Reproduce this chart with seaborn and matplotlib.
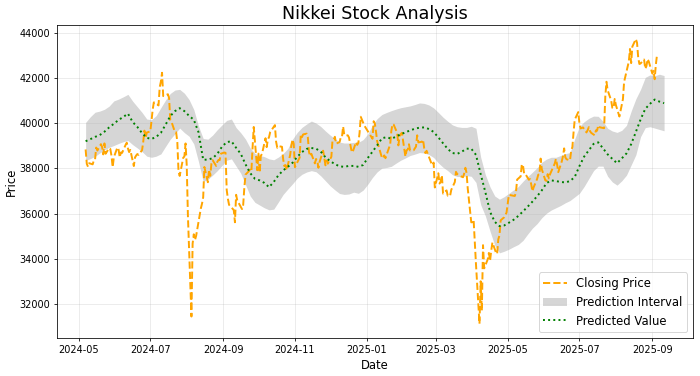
import numpy as np
import pandas as pd
import matplotlib
matplotlib.use("Agg")
import matplotlib.pyplot as plt
import matplotlib.dates as mdates
import seaborn as sns

# ---------------- data ----------------
close_start = "2024-05-07"
close_end = "2025-09-05"
market_holidays = [
    "2024-07-15", "2024-08-12", "2024-09-16", "2024-09-23", "2024-10-14",
    "2024-11-04", "2024-12-31", "2025-01-01", "2025-01-02", "2025-01-03",
    "2025-01-13", "2025-02-11", "2025-02-24", "2025-03-20", "2025-04-29",
    "2025-05-05", "2025-05-06", "2025-07-21", "2025-08-11",
]

closing_price = [
    # 2024-05
    38835, 38202, 38074, 38229, 38179, 38356, 38386, 38920, 38787, 39069,
    38946, 38617, 39103, 38646, 38900, 38856, 38556, 38054, 38488,
    # 2024-06
    38923, 38837, 38490, 38703, 38684, 39038, 39134, 38877, 38720, 38815,
    38103, 38482, 38570, 38634, 38596, 38805, 39174, 39667, 39342, 39583,
    # 2024-07
    39631, 40074, 40581, 40914, 40912, 40781, 41580, 41831, 42224, 41191,
    41275, 41098, 40126, 40064, 39599, 39594, 39155, 37870, 37668, 38469,
    38526, 39102,
    # 2024-08
    38126, 35910, 31458, 34675, 35090, 34831, 35025, 36233, 36443, 36727,
    38063, 37389, 37952, 37671, 38211, 38364, 38110, 38289, 38372, 38363,
    38648,
    # 2024-09
    38701, 38686, 37048, 36658, 36392, 36216, 36160, 35620, 36833, 36582,
    36204, 36380, 37155, 37724, 37941, 37871, 38926, 39830, 37920,
    # 2024-10
    38652, 37809, 38552, 38636, 39333, 38938, 39278, 39381, 39606, 39911,
    39181, 38911, 38982, 38955, 38412, 38105, 38144, 37914, 38606, 39028,
    39278, 39081,
    # 2024-11
    38054, 38475, 39481, 39381, 39501, 39534, 39377, 38722, 38536, 38643,
    38221, 38415, 38353, 38027, 38284, 38781, 38443, 38135, 38350, 38208,
    # 2024-12
    38514, 39249, 39277, 39396, 39092, 39161, 39368, 39373, 39850, 39471,
    39458, 39365, 39082, 38814, 38702, 39161, 39037, 39130, 39568, 40281,
    39895,
    # 2025-01
    39308, 40083, 39982, 39606, 39190, 38474, 38445, 38573, 38451, 38903,
    39028, 39647, 39959, 39932, 39566, 39017, 39415, 39514, 39572,
    # 2025-02
    38520, 38799, 38832, 39067, 38787, 38801, 38964, 39462, 39149, 39174,
    39270, 38879, 38678, 38777, 38238, 38142, 38256, 37156,
    # 2025-03
    37786, 37331, 37418, 37705, 36887, 37028, 36793, 36819, 36790, 37053,
    37396, 37846, 37752, 37677, 37608, 37780, 38027, 37799, 37120, 35618,
    # 2025-04
    35625, 35726, 34736, 33781, 31137, 33013, 31715, 34610, 33586, 33983,
    34268, 33921, 34378, 34730, 34280, 34221, 34869, 35040, 35706, 35840,
    36045,
    # 2025-05
    36452, 36831, 36780, 36929, 37504, 37645, 38184, 38128, 37756, 37754,
    37499, 37530, 37299, 36986, 37160, 37532, 37724, 37723, 38433, 37965,
    # 2025-06
    37471, 37447, 37747, 37554, 37742, 38089, 38212, 38421, 38174, 37834,
    38312, 38537, 38885, 38489, 38404, 38355, 38791, 38942, 39585, 40151,
    40487,
    # 2025-07
    39986, 39763, 39786, 39811, 39588, 39689, 39822, 39646, 39570, 39460,
    39679, 39664, 39901, 39819, 39775, 41171, 41826, 41456, 40998, 40675,
    40655, 41070,
    # 2025-08
    40800, 40291, 40550, 40795, 41059, 41820, 42718, 43275, 42650, 43378,
    43714, 43547, 42889, 42610, 42633, 42808, 42395, 42520, 42829, 42718,
    # 2025-09
    42188, 42310, 41938, 42580, 43019,
]

pred_start = "2024-05-07"
pred_step = "4D"

predicted_value = [
    39200, 39290, 39390, 39470, 39620, 39810, 39970, 40140, 40270, 40420,
    40050, 39830, 39560, 39350, 39300, 39390, 39570, 39930, 40310, 40530,
    40660, 40530, 40320, 40150, 39600, 38380, 38390, 38450, 38640, 38960,
    39160, 39200, 38910, 38640, 38180, 37790, 37540, 37470, 37360, 37170,
    37400, 37700, 37910, 38070, 38250, 38510, 38720, 38860, 38900, 38870,
    38740, 38490, 38320, 38190, 38090, 38070, 38110, 38110, 38070, 38150,
    38460, 38740, 39020, 39330, 39380, 39310, 39400, 39510, 39590, 39680,
    39750, 39800, 39810, 39740, 39610, 39370, 39110, 38860, 38680, 38640,
    38740, 38870, 38870, 38600, 37750, 36950, 36080, 35640, 35450, 35480,
    35600, 35730, 35900, 36100, 36310, 36530, 36770, 37030, 37350, 37470,
    37440, 37400, 37380, 37440, 37620, 38100, 38520, 38800, 39080, 39150,
    38890, 38620, 38420, 38230, 38440, 38660, 39070, 39610, 40160, 40630,
    40850, 41040, 40950, 40880,
]

interval_upper = [
    40030, 40280, 40480, 40530, 40610, 40750, 40980, 41060, 41160, 41270,
    40970, 40720, 40470, 40180, 40150, 40330, 40680, 41020, 41310, 41460,
    41490, 41320, 41040, 40600, 39870, 39320, 39290, 39470, 39710, 39920,
    40120, 40180, 39800, 39570, 39290, 38900, 38660, 38570, 38520, 38420,
    38380, 38500, 38660, 38880, 39290, 39590, 39810, 39960, 40090, 40000,
    39850, 39650, 39470, 39310, 39160, 39120, 39120, 39150, 39150, 39270,
    39520, 39920, 40200, 40380, 40470, 40550, 40620, 40680, 40720, 40760,
    40820, 40890, 40870, 40800, 40670, 40470, 40260, 40080, 39920, 39840,
    39810, 39810, 39860, 39770, 38500, 37720, 37180, 36780, 36640, 36750,
    36900, 37050, 37200, 37430, 37640, 37830, 38030, 38270, 38410, 38490,
    38490, 38570, 38650, 38700, 39300, 39850, 40060, 40210, 40310, 40300,
    40080, 39770, 39650, 39590, 39680, 39900, 40530, 41070, 41490, 42020,
    42130, 42090, 42160, 42100,
]

interval_lower = [
    38350, 38430, 38530, 38680, 38810, 38930, 39010, 39100, 39180, 39230,
    39050, 38900, 38740, 38540, 38490, 38540, 38640, 38970, 39290, 39530,
    39780, 39580, 39420, 39080, 38300, 37420, 37520, 37700, 37900, 38130,
    38360, 38420, 38100, 37780, 37280, 36780, 36500, 36380, 36260, 36170,
    36200, 36520, 36850, 37090, 37320, 37570, 37740, 37840, 37900, 37850,
    37670, 37450, 37230, 37050, 36890, 36850, 36870, 36950, 36900, 37040,
    37300, 37600, 37850, 38010, 38040, 38090, 38230, 38360, 38460, 38570,
    38630, 38700, 38680, 38610, 38480, 38240, 38050, 37900, 37720, 37640,
    37640, 37680, 37650, 37380, 36400, 35900, 35220, 34600, 34270, 34340,
    34430, 34540, 34640, 34820, 35100, 35360, 35560, 35820, 36020, 36160,
    36260, 36360, 36480, 36580, 36740, 36900, 37200, 37550, 37900, 38100,
    38100, 37650, 37400, 37260, 37450, 37700, 38150, 38600, 39400, 39800,
    39840, 39780, 39720, 39660,
]

# ---------------- frames ----------------
close_dates = pd.bdate_range(close_start, close_end, freq="C", holidays=market_holidays)
n = min(len(close_dates), len(closing_price))
df_close = pd.DataFrame({"Date": close_dates[:n], "Price": closing_price[:n]})

pred_dates = pd.date_range(pred_start, periods=len(predicted_value), freq=pred_step)
df_pred = pd.DataFrame({
    "Date": pred_dates,
    "Predicted": predicted_value,
    "Upper": interval_upper,
    "Lower": interval_lower,
})

# ---------------- plot ----------------
fig, ax = plt.subplots(figsize=(10, 5.372), dpi=70)
fig.subplots_adjust(left=0.081, right=0.99, top=0.934, bottom=0.101)

sns.lineplot(data=df_close, x="Date", y="Price", ax=ax, color="orange",
             linestyle="--", linewidth=2, label="Closing Price")
ax.fill_between(df_pred["Date"], df_pred["Lower"], df_pred["Upper"],
                color="gray", alpha=0.32, linewidth=0, label="Prediction Interval")
sns.lineplot(data=df_pred, x="Date", y="Predicted", ax=ax, color="green",
             linestyle=":", linewidth=2, label="Predicted Value")

ax.set_title("Nikkei Stock Analysis", fontsize=18)
ax.set_xlabel("Date", fontsize=12)
ax.set_ylabel("Price", fontsize=12, labelpad=1)
ax.grid(True, alpha=0.3)
ax.xaxis.set_major_locator(mdates.MonthLocator(bymonth=[1, 3, 5, 7, 9, 11]))
ax.xaxis.set_major_formatter(mdates.DateFormatter("%Y-%m"))
ax.legend(loc="lower right", fontsize=12)

fig.savefig("out.png", dpi=70)
